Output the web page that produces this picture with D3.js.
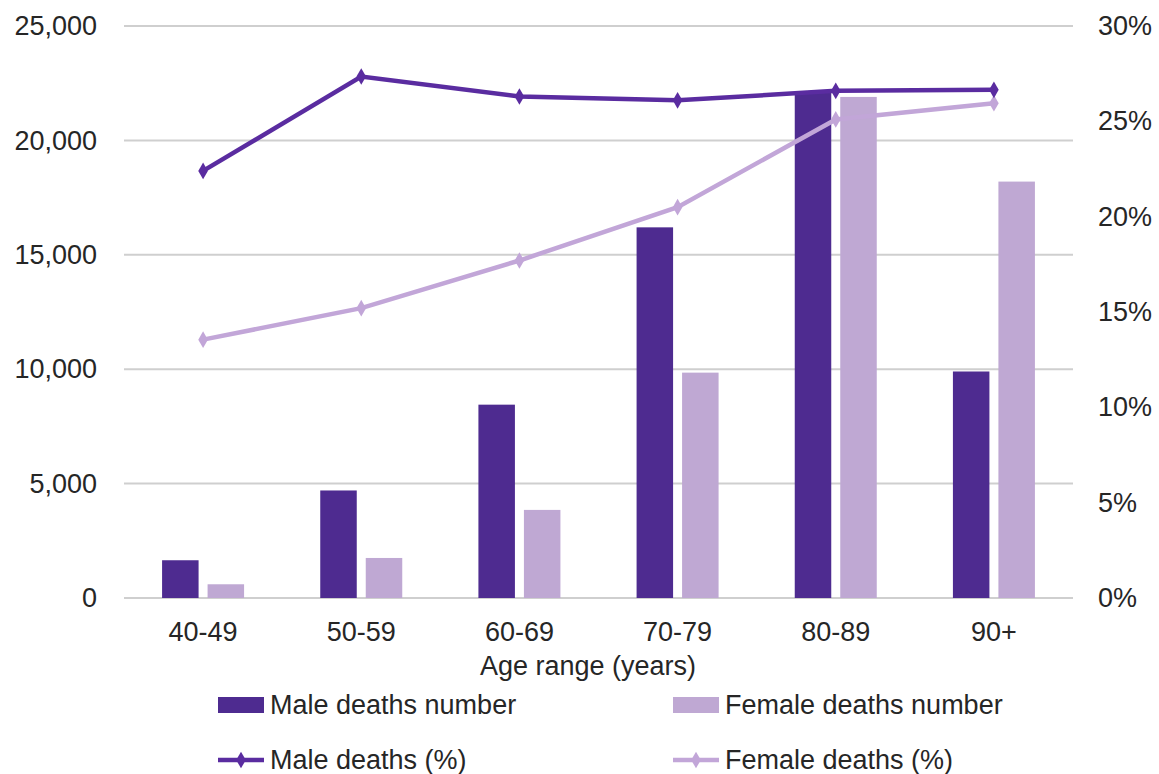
<!DOCTYPE html>
<html lang="en">
<head>
  <meta charset="UTF-8">
  <title>Deaths by age range</title>
  <style>
    body { margin: 0; background: #fff; }
    svg text { font-family: "Liberation Sans", Arial, sans-serif; fill: #262626; }
  </style>
</head>
<body>
  <div class="canvas"></div>

  <script src="https://cdnjs.cloudflare.com/ajax/libs/d3/7.8.5/d3.min.js"></script>
  <script>
    // data
    const ageRanges = ['40-49', '50-59', '60-69', '70-79', '80-89', '90+'];
    const maleNumber = [1650, 4700, 8450, 16200, 22150, 9900];
    const femaleNumber = [600, 1750, 3850, 9850, 21900, 18200];
    const malePct = [22.4, 27.35, 26.3, 26.1, 26.6, 26.65];
    const femalePct = [13.55, 15.2, 17.7, 20.5, 25.1, 25.95];
    const leftTicks = [0, 5000, 10000, 15000, 20000, 25000];
    const rightTicks = [0, 5, 10, 15, 20, 25, 30];

    const maleColor = '#4e2b90';
    const femaleColor = '#bfa8d3';
    const maleLine = '#5a2ca0';
    const femaleLine = '#c2a6d8';
    const fontSize = '27px';

    const svg = d3.select('.canvas').append('svg')
      .attr('width', 1159)
      .attr('height', 774);

    const x = d3.scaleBand().domain(ageRanges).range([124, 1073]);
    const yLeft = d3.scaleLinear().domain([0, 25000]).range([598, 26]);
    const yRight = d3.scaleLinear().domain([0, 30]).range([598, 26]);

    // gridlines
    svg.append('g')
      .selectAll('line')
      .data(leftTicks)
      .join('line')
      .attr('x1', 124)
      .attr('x2', 1073)
      .attr('y1', d => yLeft(d))
      .attr('y2', d => yLeft(d))
      .attr('stroke', '#cfcfcf')
      .attr('stroke-width', 2);

    // left axis
    const leftAxis = svg.append('g')
      .attr('transform', 'translate(97, 0)')
      .call(d3.axisLeft(yLeft).tickValues(leftTicks).tickSize(0).tickPadding(0).tickFormat(d3.format(',')));
    leftAxis.select('.domain').remove();
    leftAxis.selectAll('text').style('font-size', fontSize).attr('fill', '#262626');

    // right axis
    const rightAxis = svg.append('g')
      .attr('transform', 'translate(1098, 0)')
      .call(d3.axisRight(yRight).tickValues(rightTicks).tickSize(0).tickPadding(0).tickFormat(d => d + '%'));
    rightAxis.select('.domain').remove();
    rightAxis.selectAll('text').style('font-size', fontSize).attr('fill', '#262626');

    // bottom axis labels
    const bottomAxis = svg.append('g')
      .attr('transform', 'translate(0, 622)')
      .call(d3.axisBottom(x).tickSize(0).tickPadding(0));
    bottomAxis.select('.domain').remove();
    bottomAxis.selectAll('text').style('font-size', fontSize).attr('fill', '#262626');

    svg.append('text')
      .attr('x', 588)
      .attr('y', 675)
      .attr('text-anchor', 'middle')
      .style('font-size', fontSize)
      .text('Age range (years)');

    // bars
    const barW = 36.5;
    const gap = 9;
    const cx = d => x(d) + x.bandwidth() / 2;

    svg.append('g')
      .selectAll('rect')
      .data(ageRanges)
      .join('rect')
      .attr('x', (d) => cx(d) - gap / 2 - barW)
      .attr('y', (d, i) => yLeft(maleNumber[i]))
      .attr('width', barW)
      .attr('height', (d, i) => yLeft(0) - yLeft(maleNumber[i]))
      .attr('fill', maleColor);

    svg.append('g')
      .selectAll('rect')
      .data(ageRanges)
      .join('rect')
      .attr('x', (d) => cx(d) + gap / 2)
      .attr('y', (d, i) => yLeft(femaleNumber[i]))
      .attr('width', barW)
      .attr('height', (d, i) => yLeft(0) - yLeft(femaleNumber[i]))
      .attr('fill', femaleColor);

    // lines
    const diamond = d3.symbol().type(d3.symbolDiamond).size(80);

    function drawLine(values, color) {
      const line = d3.line()
        .x((d, i) => cx(ageRanges[i]))
        .y(d => yRight(d));
      svg.append('path')
        .datum(values)
        .attr('d', line)
        .attr('fill', 'none')
        .attr('stroke', color)
        .attr('stroke-width', 4.5);
      svg.append('g')
        .selectAll('path')
        .data(values)
        .join('path')
        .attr('d', diamond)
        .attr('transform', (d, i) => `translate(${cx(ageRanges[i])}, ${yRight(d)})`)
        .attr('fill', color);
    }
    drawLine(femalePct, femaleLine);
    drawLine(malePct, maleLine);

    // legend
    const legend = [
      { label: 'Male deaths number', color: maleColor, kind: 'bar', x: 218, y: 705 },
      { label: 'Female deaths number', color: femaleColor, kind: 'bar', x: 673, y: 705 },
      { label: 'Male deaths (%)', color: maleLine, kind: 'line', x: 218, y: 760 },
      { label: 'Female deaths (%)', color: femaleLine, kind: 'line', x: 673, y: 760 }
    ];

    const items = svg.append('g')
      .selectAll('g')
      .data(legend)
      .join('g')
      .attr('transform', d => `translate(${d.x}, ${d.y})`);

    items.filter(d => d.kind === 'bar')
      .append('rect')
      .attr('x', 0)
      .attr('y', -8)
      .attr('width', 46)
      .attr('height', 16)
      .attr('fill', d => d.color);

    items.filter(d => d.kind === 'line')
      .append('line')
      .attr('x1', 0)
      .attr('x2', 46)
      .attr('stroke', d => d.color)
      .attr('stroke-width', 4.5);

    items.filter(d => d.kind === 'line')
      .append('path')
      .attr('d', diamond)
      .attr('transform', 'translate(23, 0)')
      .attr('fill', d => d.color);

    items.append('text')
      .attr('x', 52)
      .attr('y', 0)
      .attr('dy', '0.35em')
      .style('font-size', fontSize)
      .text(d => d.label);
  </script>
</body>
</html>
